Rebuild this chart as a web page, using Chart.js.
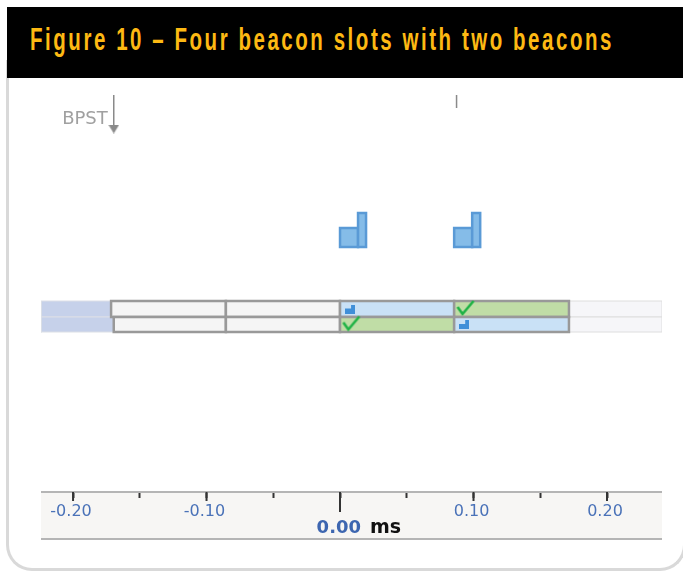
<!DOCTYPE html>
<html>
<head>
<meta charset="utf-8">
<title>Figure 10</title>
<style>
html, body { margin: 0; padding: 0; background: #fff; overflow: hidden; }
body { width: 683px; height: 571px; position: relative; }
#card { position: absolute; left: 6px; top: 60px; width: 674px; height: 508px; border: 3px solid #d9d9d9; border-top: none; border-radius: 0 0 26px 26px; }
#band { position: absolute; left: 7px; top: 7px; width: 676px; height: 71px; background: #000; overflow: hidden; }
#band span { position: absolute; left: 23px; top: 14px; color: #fdb913; font: bold 32px "Liberation Sans", sans-serif; letter-spacing: 4px; white-space: nowrap; transform-origin: 0 50%; }
#chart { position: absolute; left: 0; top: 0; }
</style>
</head>
<body>
<div id="card"></div>
<div id="band"><span id="heading">Figure 10 – Four beacon slots with two beacons</span></div>
<canvas id="chart" width="683" height="571"></canvas>
<script src="https://cdn.jsdelivr.net/npm/chart.js@4/dist/chart.umd.min.js"></script>
<script>
// slot edges in ms, one list per row (the two rows start a little apart)
const topRowEdges = [-0.1715, -0.0855, 0, 0.0855, 0.1715];
const bottomRowEdges = [-0.1695, -0.0855, 0, 0.0855, 0.1715];
const topRowStates = ['empty', 'empty', 'beacon', 'ack'];
const bottomRowStates = ['empty', 'empty', 'ack', 'beacon'];

// beacons: start time, then the two pulses
const beaconStarts = [0, 0.0855];
const pulseEnds = [0.0135, 0.0195];
const pulseHeights = [19, 34];

const bpstTime = -0.1695;
const nextBpstTime = 0.0873;

const tickValues = [-0.20, -0.15, -0.10, -0.05, 0, 0.05, 0.10, 0.15, 0.20];
const tickLabels = ['-0.20', '', '-0.10', '', '', '', '0.10', '', '0.20'];

const X_MIN = -0.224, X_MAX = 0.2412;
// y scale counts pixels up from the axis
const Y_MAX = 414;
const ROW_BOTTOM = 160, ROW_MID = 175, ROW_TOP = 191;
const BEACON_BASE = 245;

const STATE_FILL = { empty: '#f5f5f5', beacon: '#c9e1f6', ack: '#c0dda6' };

// heading is a condensed face in the original, squeeze the closest one we have
const heading = document.getElementById('heading');
heading.style.transform = 'scaleX(' + (584 / heading.offsetWidth) + ')';

function rect(x0, x1, y0, y1, fill, stroke, width) {
    return {
        data: [{x: x0, y: y0}, {x: x1, y: y0}, {x: x1, y: y1}, {x: x0, y: y1}, {x: x0, y: y0}],
        fill: 'shape',
        backgroundColor: fill,
        borderColor: stroke,
        borderWidth: width,
        borderJoinStyle: 'miter',
        borderCapStyle: 'square',
        pointRadius: 0,
        tension: 0
    };
}

function icon(w, h, draw) {
    const c = document.createElement('canvas');
    c.width = w;
    c.height = h;
    draw(c.getContext('2d'));
    return c;
}

const checkIcon = icon(20, 18, g => {
    g.strokeStyle = '#1fb245';
    g.lineWidth = 2.6;
    g.beginPath();
    g.moveTo(2, 8);
    g.lineTo(7, 15);
    g.lineTo(18, 2);
    g.stroke();
});

const miniBeaconIcon = icon(10, 9, g => {
    g.fillStyle = '#3f8fd8';
    g.fillRect(0, 4, 10, 5);
    g.fillRect(6, 0, 4, 9);
});

const arrowIcon = icon(11, 9, g => {
    g.fillStyle = '#8a8a8a';
    g.beginPath();
    g.moveTo(0, 0);
    g.lineTo(11, 0);
    g.lineTo(5.5, 9);
    g.fill();
});

const datasets = [];

// blank rows either side of the slots
datasets.push(rect(X_MIN, topRowEdges[0], ROW_MID, ROW_TOP, '#c6d1ea', '#dcdfe6', 1));
datasets.push(rect(X_MIN, bottomRowEdges[0], ROW_BOTTOM, ROW_MID, '#c6d1ea', '#dcdfe6', 1));
datasets.push(rect(topRowEdges[4], X_MAX, ROW_MID, ROW_TOP, '#f6f6f9', '#dedede', 1));
datasets.push(rect(bottomRowEdges[4], X_MAX, ROW_BOTTOM, ROW_MID, '#f6f6f9', '#dedede', 1));

function addRow(edges, states, y0, y1) {
    states.forEach((state, i) => {
        datasets.push(rect(edges[i], edges[i + 1], y0, y1, STATE_FILL[state], '#999999', 2.5));
    });
    states.forEach((state, i) => {
        if (state === 'empty') return;
        const isAck = state === 'ack';
        datasets.push({
            type: 'scatter',
            data: [{x: edges[i] + (isAck ? 0.0085 : 0.0075), y: (y0 + y1) / 2 + (isAck ? 1 : 0)}],
            pointStyle: isAck ? checkIcon : miniBeaconIcon,
            pointRadius: 5
        });
    });
}
addRow(topRowEdges, topRowStates, ROW_MID, ROW_TOP);
addRow(bottomRowEdges, bottomRowStates, ROW_BOTTOM, ROW_MID);

beaconStarts.forEach(start => {
    datasets.push(rect(start, start + pulseEnds[0], BEACON_BASE, BEACON_BASE + pulseHeights[0], '#85bce8', '#5a9ad6', 2.5));
    datasets.push(rect(start + pulseEnds[0], start + pulseEnds[1], BEACON_BASE, BEACON_BASE + pulseHeights[1], '#85bce8', '#5a9ad6', 2.5));
});

// BPST arrow and the next marker
datasets.push({
    data: [{x: bpstTime, y: 397}, {x: bpstTime, y: 364}],
    borderColor: '#8a8a8a',
    borderWidth: 1.5,
    pointRadius: 0
});
datasets.push({
    type: 'scatter',
    data: [{x: bpstTime, y: 363}],
    pointStyle: arrowIcon,
    pointRadius: 5
});
datasets.push({
    data: [{x: nextBpstTime, y: 397}, {x: nextBpstTime, y: 384}],
    borderColor: '#8a8a8a',
    borderWidth: 1.5,
    pointRadius: 0
});

// first dataset ends up on top otherwise
datasets.forEach((d, i) => { d.order = 1000 - i; });

const axisExtras = {
    id: 'axisExtras',
    beforeDraw(chart) {
        const g = chart.ctx, a = chart.scales.x;
        g.save();
        g.fillStyle = '#f7f6f4';
        g.fillRect(a.left, a.top, a.width, a.height);
        g.restore();
    },
    afterDraw(chart) {
        const g = chart.ctx, a = chart.scales.x, area = chart.chartArea;
        g.save();
        g.strokeStyle = '#b5b5b5';
        g.lineWidth = 2;
        g.beginPath();
        g.moveTo(a.left, a.top);
        g.lineTo(a.right, a.top);
        g.moveTo(a.left, a.bottom);
        g.lineTo(a.right, a.bottom);
        g.stroke();

        // library ticks are all short, labelled ones and zero reach further
        g.strokeStyle = '#333333';
        g.lineWidth = 2;
        tickValues.forEach((v, i) => {
            const len = v === 0 ? 20 : (tickLabels[i] ? 9 : 0);
            if (!len) return;
            const x = a.getPixelForValue(v);
            g.beginPath();
            g.moveTo(x, a.top);
            g.lineTo(x, a.top + len);
            g.stroke();
        });

        const zeroX = a.getPixelForValue(0);
        g.textBaseline = 'alphabetic';
        g.textAlign = 'right';
        g.fillStyle = '#3d66b0';
        g.font = 'bold 18px "DejaVu Sans"';
        g.fillText('0.00', zeroX + 21, a.top + 41);
        g.textAlign = 'left';
        g.fillStyle = '#111111';
        g.font = 'bold 19px "DejaVu Sans"';
        g.fillText('ms', zeroX + 30, a.top + 41);

        g.textAlign = 'right';
        g.fillStyle = '#a0a0a0';
        g.font = '18px "DejaVu Sans"';
        g.fillText('BPST', a.getPixelForValue(bpstTime) - 6, area.top + 46);
        g.restore();
    }
};

new Chart(document.getElementById('chart'), {
    type: 'line',
    data: { datasets },
    plugins: [axisExtras],
    options: {
        responsive: false,
        animation: false,
        layout: { padding: { left: 41, right: 21, top: 78, bottom: 32 } },
        plugins: { legend: { display: false }, tooltip: { enabled: false }, title: { display: false } },
        scales: {
            x: {
                type: 'linear',
                min: X_MIN,
                max: X_MAX,
                afterBuildTicks: s => { s.ticks = tickValues.map(value => ({value})); },
                afterFit: s => { s.height = 47; },
                grid: { drawOnChartArea: false, drawTicks: true, tickLength: 6, tickColor: '#333333', tickWidth: 2 },
                border: { display: false },
                ticks: {
                    autoSkip: false,
                    maxRotation: 0,
                    padding: 4,
                    labelOffset: -2,
                    color: '#4a72b8',
                    font: { family: '"DejaVu Sans"', size: 16 },
                    callback: value => {
                        const i = tickValues.indexOf(value);
                        return i >= 0 ? tickLabels[i] : '';
                    }
                }
            },
            y: { type: 'linear', display: false, min: 0, max: Y_MAX }
        }
    }
});
</script>
</body>
</html>
